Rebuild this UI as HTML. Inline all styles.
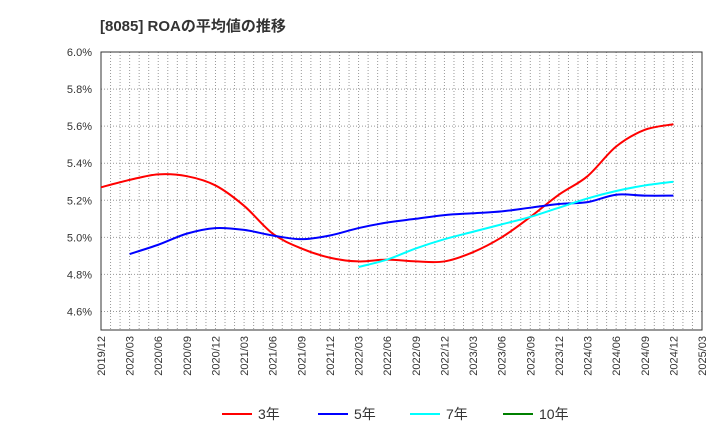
<!DOCTYPE html>
<html><head><meta charset="utf-8"><style>
body{margin:0;background:#fff;font-family:"Liberation Sans","Noto Sans CJK JP",sans-serif;}
</style></head><body>
<svg id="c" width="720" height="440" xmlns="http://www.w3.org/2000/svg">
<text x="100" y="31" font-size="15" font-weight="bold" fill="#333">[8085]  ROAの平均値の推移</text>
<g id="grid"></g><g id="axes"></g><g id="series"></g><g id="legend"></g>
</svg>
<script>
const xLabels=["2019/12","2020/03","2020/06","2020/09","2020/12","2021/03","2021/06","2021/09","2021/12","2022/03","2022/06","2022/09","2022/12","2023/03","2023/06","2023/09","2023/12","2024/03","2024/06","2024/09","2024/12","2025/03"];
const yTicks=[4.6,4.8,5.0,5.2,5.4,5.6,5.8,6.0];
const roa3=[5.27,5.31,5.34,5.33,5.28,5.17,5.02,4.94,4.89,4.87,4.88,4.87,4.87,4.92,5.00,5.11,5.23,5.33,5.49,5.58,5.61];
const roa5=[null,4.91,4.96,5.02,5.05,5.04,5.01,4.99,5.01,5.05,5.08,5.10,5.12,5.13,5.14,5.16,5.18,5.19,5.23,5.225,5.225];
const roa7=[null,null,null,null,null,null,null,null,null,4.84,4.88,4.94,4.99,5.03,5.07,5.11,5.16,5.21,5.25,5.28,5.30];
const seriesNames=["3年","5年","7年","10年"];
const colors=["#ff0000","#0000ff","#00ffff","#008000"];
const X0=101,X1=702,Y0=52,Y1=330,ymin=4.5,ymax=6.0;
const xs=i=>X0+i*(X1-X0)/(xLabels.length-1);
const ys=v=>Y1-(v-ymin)/(ymax-ymin)*(Y1-Y0);
const NS="http://www.w3.org/2000/svg";
function mk(p,t,a){const e=document.createElementNS(NS,t);for(const k in a)e.setAttribute(k,a[k]);document.getElementById(p).appendChild(e);return e;}
mk("grid","rect",{x:X0,y:Y0,width:X1-X0,height:Y1-Y0,fill:"#fff",stroke:"none"});
for(let m=1;m<(xLabels.length-1)*3;m++){const x=X0+m*(X1-X0)/((xLabels.length-1)*3);
const l=mk("grid","line",{x1:x,x2:x,y1:Y0,y2:Y1,stroke:"#999","stroke-dasharray":"1,2"});

}
yTicks.forEach(v=>{const y=ys(v);
const l=mk("grid","line",{x1:X0,x2:X1,y1:y,y2:y,stroke:"#999","stroke-dasharray":"1,2"});


const t=mk("axes","text",{x:92,y:y+4,"text-anchor":"end","font-size":"11",fill:"#333"});t.textContent=v.toFixed(1)+"%";

});
xLabels.forEach((s,i)=>{const x=xs(i);
const t=mk("axes","text",{transform:`translate(${x+4},${Y1+6}) rotate(-90)`,"text-anchor":"end","font-size":"11",fill:"#333"});t.textContent=s;

});
const fr=mk("axes","rect",{x:X0,y:Y0,width:X1-X0,height:Y1-Y0,fill:"none",stroke:"#333","stroke-width":"1"});


function path(data){const pts=[];data.forEach((v,i)=>{if(v!=null)pts.push([xs(i),ys(v)]);});
let d=`M${pts[0][0]},${pts[0][1]}`;
for(let i=0;i<pts.length-1;i++){const p0=pts[i-1]||pts[i],p1=pts[i],p2=pts[i+1],p3=pts[i+2]||p2;
const c1=[p1[0]+(p2[0]-p0[0])/6,p1[1]+(p2[1]-p0[1])/6],c2=[p2[0]-(p3[0]-p1[0])/6,p2[1]-(p3[1]-p1[1])/6];
d+=` C${c1[0]},${c1[1]} ${c2[0]},${c2[1]} ${p2[0]},${p2[1]}`;}return d;}
[[roa3,0],[roa5,1],[roa7,2]].forEach(([d,k])=>{const p=mk("series","path",{d:path(d),fill:"none",stroke:colors[k],"stroke-width":"2"});

});
const lx=[222,318,410,503];
seriesNames.forEach((n,k)=>{
const l=mk("legend","line",{x1:lx[k],x2:lx[k]+30,y1:414,y2:414,stroke:colors[k],"stroke-width":"2"});


const t=mk("legend","text",{x:lx[k]+36,y:419,"font-size":"14",fill:"#333"});t.textContent=n;

});
</script>
</body></html>
